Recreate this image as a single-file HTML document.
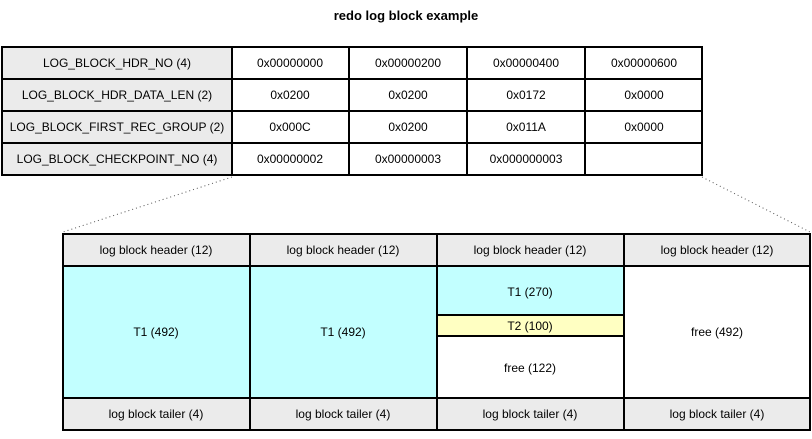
<!DOCTYPE html>
<html><head><meta charset="utf-8"><style>
html,body{margin:0;padding:0;background:#fff;}
svg text{font-family:"Liberation Sans",Arial,sans-serif;font-size:12px;fill:#000;}
</style></head><body>
<svg width="812" height="434" xmlns="http://www.w3.org/2000/svg">
<text x="406" y="20" text-anchor="middle" style="font-weight:bold;font-size:13px">redo log block example</text>
<!-- top table -->
<g stroke="#000" stroke-width="2">
<rect x="2" y="47" width="230" height="128" fill="#ebebeb"/>
<rect x="232" y="47" width="470" height="128" fill="#fff"/>
<line x1="2" y1="79" x2="702" y2="79"/>
<line x1="2" y1="111" x2="702" y2="111"/>
<line x1="2" y1="143" x2="702" y2="143"/>
<line x1="349" y1="47" x2="349" y2="175"/>
<line x1="467" y1="47" x2="467" y2="175"/>
<line x1="585" y1="47" x2="585" y2="175"/>
</g>
<g text-anchor="middle">
<text x="117" y="67">LOG_BLOCK_HDR_NO (4)</text>
<text x="117" y="99">LOG_BLOCK_HDR_DATA_LEN (2)</text>
<text x="117" y="131">LOG_BLOCK_FIRST_REC_GROUP (2)</text>
<text x="117" y="163">LOG_BLOCK_CHECKPOINT_NO (4)</text>
<text x="290" y="67">0x00000000</text><text x="408" y="67">0x00000200</text><text x="526" y="67">0x00000400</text><text x="644" y="67">0x00000600</text>
<text x="290" y="99">0x0200</text><text x="408" y="99">0x0200</text><text x="526" y="99">0x0172</text><text x="644" y="99">0x0000</text>
<text x="290" y="131">0x000C</text><text x="408" y="131">0x0200</text><text x="526" y="131">0x011A</text><text x="644" y="131">0x0000</text>
<text x="290" y="163">0x00000002</text><text x="408" y="163">0x00000003</text><text x="526" y="163">0x000000003</text>
</g>
<g stroke="#555" stroke-width="1" stroke-dasharray="1,3">
<line x1="232" y1="177" x2="63" y2="232"/>
<line x1="702" y1="177" x2="810" y2="232"/>
</g>
<!-- bottom -->
<g stroke="#000" stroke-width="2">
<rect x="63" y="234" width="747" height="32" fill="#ebebeb"/>
<rect x="63" y="398" width="747" height="32" fill="#ebebeb"/>
<rect x="63" y="266" width="374" height="132" fill="#c2ffff"/>
<rect x="437" y="266" width="187" height="49" fill="#c2ffff"/>
<rect x="437" y="315" width="187" height="21" fill="#ffffc2"/>
<rect x="437" y="336" width="187" height="62" fill="#fff"/>
<rect x="624" y="266" width="186" height="132" fill="#fff"/>
<line x1="250" y1="234" x2="250" y2="430"/>
<line x1="437" y1="234" x2="437" y2="430"/>
<line x1="624" y1="234" x2="624" y2="430"/>
</g>
<g text-anchor="middle">
<text x="156" y="254">log block header (12)</text><text x="343" y="254">log block header (12)</text><text x="530" y="254">log block header (12)</text><text x="717" y="254">log block header (12)</text>
<text x="156" y="418">log block tailer (4)</text><text x="343" y="418">log block tailer (4)</text><text x="530" y="418">log block tailer (4)</text><text x="717" y="418">log block tailer (4)</text>
<text x="156" y="336">T1 (492)</text><text x="343" y="336">T1 (492)</text>
<text x="530" y="296">T1 (270)</text><text x="530" y="330">T2 (100)</text><text x="530" y="372">free (122)</text>
<text x="717" y="336">free (492)</text>
</g>
</svg>
</body></html>
